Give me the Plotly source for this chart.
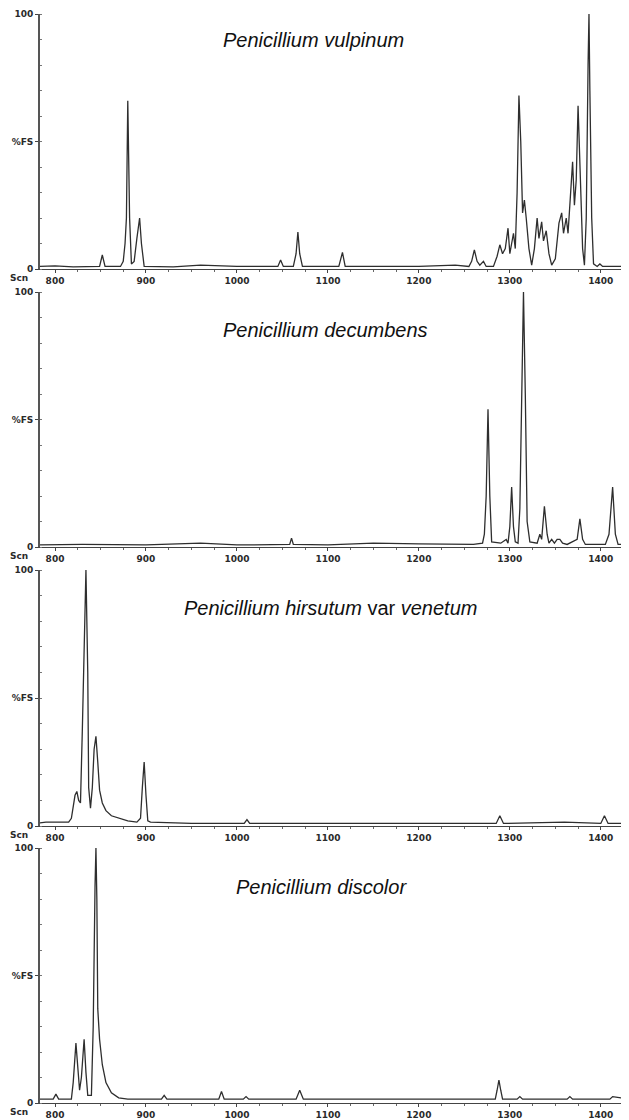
import plotly.graph_objects as go

# ---- data (scan number, % full scale) ----
vulpinum_scan = [778, 800, 820, 845, 849, 852, 855, 872, 875, 877, 878.5, 880, 882, 884, 887, 890, 893, 895, 898,
                 930, 960, 1000, 1040, 1045, 1048, 1051, 1062, 1065, 1067, 1069, 1072, 1112, 1116, 1119, 1200, 1240,
                 1255, 1258, 1261, 1264, 1267, 1271, 1274, 1282, 1286, 1289, 1292, 1295, 1298, 1300, 1302, 1304, 1306,
                 1308, 1310, 1312, 1314, 1316, 1318, 1321, 1324, 1327, 1330, 1332, 1335, 1337, 1340, 1343, 1346, 1350,
                 1354, 1357, 1359, 1362, 1364, 1366, 1369, 1371, 1373, 1375, 1377, 1380, 1382, 1384, 1386, 1387, 1388,
                 1390, 1392, 1396, 1399, 1402, 1432]
vulpinum_int = [1, 1.2, 0.8, 1, 1, 5.5, 1, 1, 3, 10, 20, 66, 20, 2, 3, 12, 20, 10, 1,
                0.8, 1.5, 1, 1, 1, 3.5, 1, 1, 6, 14.5, 6, 1, 1, 6.5, 1, 1, 1.5,
                1, 3, 7.5, 3, 1.5, 3, 1, 1, 5, 9.5, 6, 8, 16, 6, 10, 14, 8,
                30, 68, 50, 22, 27, 20, 8, 1.5, 8, 20, 12, 18.5, 11, 15, 6, 1.5, 4,
                18, 22, 14, 20, 14, 25, 42, 25, 35, 64, 40, 8, 1.5, 20, 80, 100, 70,
                20, 2, 1, 2, 1, 1]

decumbens_scan = [778, 830, 900, 960, 1000, 1055, 1058, 1060, 1062, 1100, 1150, 1200, 1260, 1270, 1272, 1274, 1276,
                  1278, 1280, 1290, 1296, 1298, 1300, 1302, 1304, 1306, 1309, 1311, 1313, 1315, 1317, 1319, 1322, 1330,
                  1333, 1335, 1338, 1341, 1343, 1346, 1349, 1352, 1355, 1358, 1363, 1374, 1377, 1380, 1383, 1405, 1409,
                  1413, 1416, 1419, 1432]
decumbens_int = [0.8, 1, 0.8, 1.5, 0.8, 1, 1, 3.5, 1, 0.8, 1.5, 1.2, 1, 1.5, 5, 20, 54,
                 20, 2, 1.5, 3, 1.5, 8, 23.5, 8, 2, 1.5, 15, 60, 100, 60, 10, 2, 1.5,
                 5, 3, 16, 5, 1.5, 3, 1.5, 3, 3, 1.5, 1, 3, 11, 3, 1, 1, 5,
                 23.5, 5, 1, 1]

hirsutum_scan = [778, 790, 815, 818, 822, 824, 826, 828, 830, 832, 834, 836, 837, 839, 841, 843, 845, 847, 849, 852,
                 856, 862, 870, 880, 890, 894, 896, 898, 900, 902, 905, 950, 1008, 1011, 1014, 1100, 1200, 1285, 1289,
                 1293, 1360, 1400, 1404, 1408, 1432]
hirsutum_int = [1, 1.5, 1.5, 3, 12, 13.5, 10, 9, 37, 70, 100, 60, 15, 7, 15, 30, 35, 25, 14, 9,
                6, 4, 3, 2, 1.5, 3, 15, 25, 12, 2, 1.5, 1, 1, 2.5, 1, 1, 1, 1, 4,
                1, 1.5, 1, 4, 1, 1]

discolor_scan = [778, 798, 801, 804, 818, 820, 823, 825, 827, 829, 832, 834, 836, 840, 842, 844, 845, 846, 847, 849,
                 852, 856, 862, 870, 880, 917, 920, 923, 980, 983, 986, 1007, 1010, 1013, 1065, 1069, 1073, 1150, 1200,
                 1284, 1286, 1288, 1290, 1292, 1308, 1311, 1314, 1363, 1366, 1369, 1410, 1413, 1432]
discolor_int = [1.5, 1.5, 3.5, 1.5, 1.5, 8, 23.5, 15, 5, 10, 25, 12, 3, 3, 30, 85, 100, 80, 37, 25,
                15, 8, 4, 2, 1.5, 1.5, 3, 1.5, 1.5, 4.5, 1.5, 1.5, 2.5, 1.5, 1.5, 5, 1.5, 1.5, 1.5,
                1.5, 5, 9, 5, 1.5, 1.5, 2.5, 1.5, 1.5, 2.5, 1.5, 1.5, 2.5, 1.5]

titles = ["<i>Penicillium vulpinum</i>",
          "<i>Penicillium decumbens</i>",
          "<i>Penicillium hirsutum</i> var <i>venetum</i>",
          "<i>Penicillium discolor</i>"]
x_ticks = [800, 900, 1000, 1100, 1200, 1300, 1400]
y_ticks = [0, 50, 100]
y_tick_text = ["0", "%FS", "100"]

series = [(vulpinum_scan, vulpinum_int), (decumbens_scan, decumbens_int),
          (hirsutum_scan, hirsutum_int), (discolor_scan, discolor_int)]

OFF = 8  # page body margin of the html page
W, H = 629 - OFF, 1120 - OFF
L = 40 - OFF
# panel pixel extents in the reference (top of 100, zero line)
panels_px = [(14, 269), (292, 547), (570, 826), (848, 1103)]
title_px = [(313, 40), (325, 330), (330, 608), (321, 887)]

fig = go.Figure()
tick_font = dict(family="DejaVu Sans, Liberation Sans, sans-serif", size=9, color="#2a2a2a")
for i, (sx, sy) in enumerate(series):
    n = "" if i == 0 else str(i + 1)
    fig.add_trace(go.Scatter(x=sx, y=sy, mode="lines",
                             line=dict(color="#2e2e2e", width=1.3),
                             xaxis="x" + n, yaxis="y" + n, showlegend=False,
                             hoverinfo="skip"))
    top, bot = panels_px[i]
    top -= OFF
    bot -= OFF
    dom = [1 - bot / H, 1 - top / H]
    fig.layout["xaxis" + n] = dict(
        range=[783.5, 1431], domain=[0, 1], anchor="y" + n, automargin=False,
        tickvals=x_ticks, ticktext=["<b>%d</b>" % t for t in x_ticks],
        ticks="outside", ticklen=3, tickwidth=1, tickcolor="#444",
        showline=True, linecolor="#444", linewidth=1.3,
        showgrid=False, zeroline=False, tickfont=tick_font,
        minor=dict(dtick=25, ticks="outside", ticklen=2, tickcolor="#666"),
        fixedrange=True)
    fig.layout["yaxis" + n] = dict(
        range=[0, 100], domain=dom, anchor="x" + n, automargin=False,
        tickvals=y_ticks, ticktext=["<b>%s</b>" % t for t in y_tick_text],
        ticks="outside", ticklen=3, tickcolor="#444",
        showline=True, linecolor="#555", linewidth=1.8,
        showgrid=False, zeroline=False, tickfont=tick_font,
        minor=dict(dtick=10, ticks="inside", ticklen=2, tickcolor="#777"),
        fixedrange=True)
    tx, ty = title_px[i]
    fig.add_annotation(text=titles[i], xref="paper", yref="paper",
                       x=(tx - OFF - L) / (W - L), y=1 - (ty - OFF) / H,
                       xanchor="center", yanchor="middle", showarrow=False,
                       font=dict(family="Liberation Sans, Arial, sans-serif", size=20, color="#111"))
    fig.add_annotation(text="<b>Scn</b>", xref="paper", yref="paper",
                       x=-L / (W - L), y=1 - (bot + 9) / H, xanchor="left", yanchor="middle",
                       showarrow=False, font=tick_font)

fig.update_layout(width=W, height=H, margin=dict(l=L, r=0, t=0, b=0, autoexpand=False),
                  paper_bgcolor="white", plot_bgcolor="white")
fig.write_html("out.html")
